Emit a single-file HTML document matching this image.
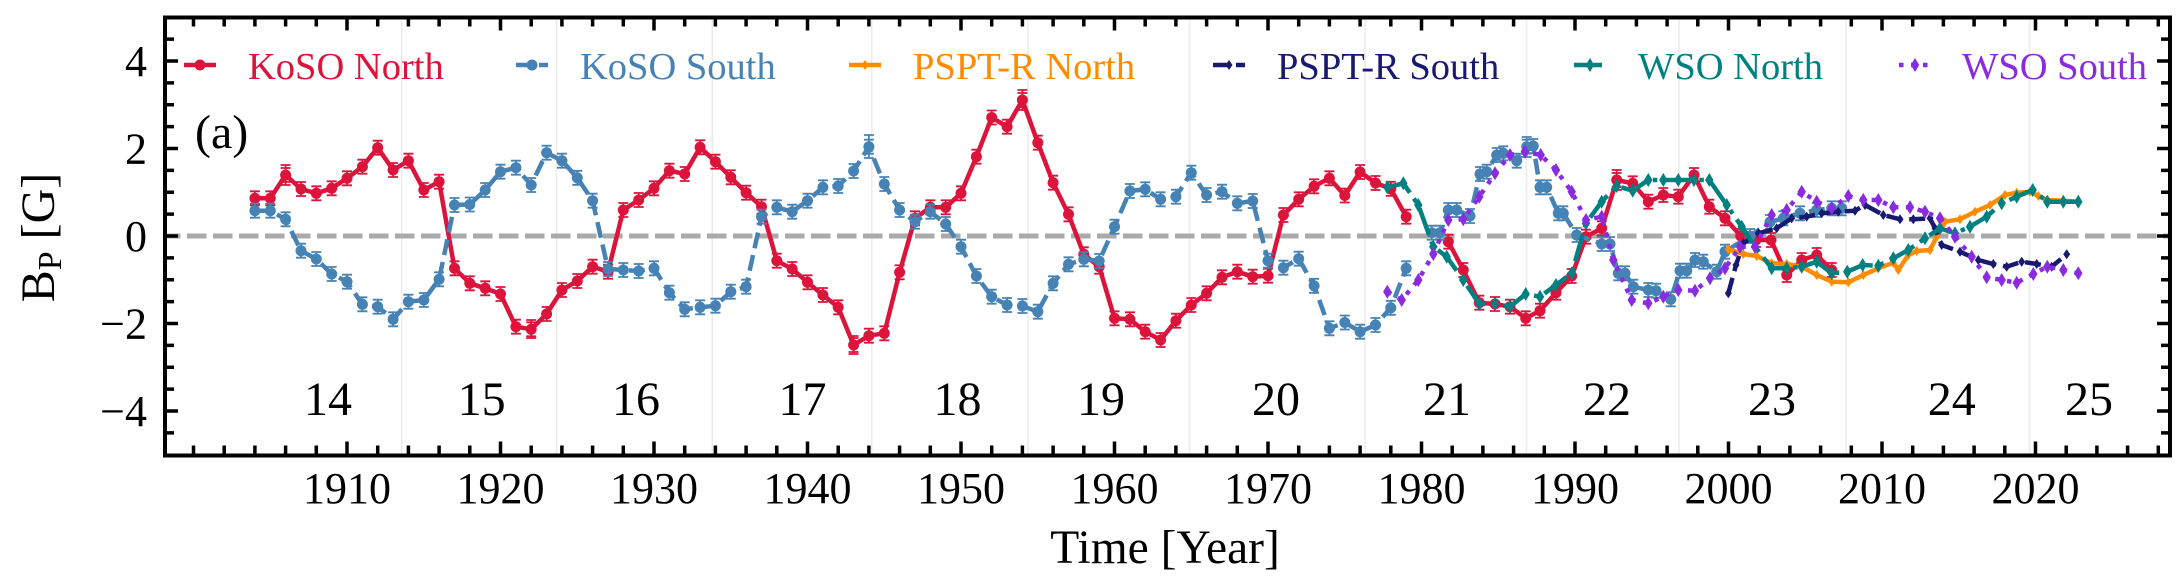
<!DOCTYPE html>
<html><head><meta charset="utf-8">
<style>
html,body{margin:0;padding:0;background:#fff;width:2182px;height:584px;overflow:hidden}
svg{display:block}
text{font-family:"Liberation Serif","DejaVu Serif",serif}
</style></head>
<body>
<svg width="2182" height="584" viewBox="0 0 2182 584" xmlns="http://www.w3.org/2000/svg">
<defs>
<marker id="mR" markerUnits="userSpaceOnUse" markerWidth="20" markerHeight="20" refX="0" refY="0" style="overflow:visible">
<path d="M0,-7V7M-5,-7H5M-5,7H5" stroke="#DC143C" stroke-width="1.8" fill="none"/>
<circle r="5.5" fill="#DC143C"/></marker>
<marker id="mB" markerUnits="userSpaceOnUse" markerWidth="20" markerHeight="20" refX="0" refY="0" style="overflow:visible">
<path d="M0,-7V7M-5,-7H5M-5,7H5" stroke="#4682B4" stroke-width="1.8" fill="none"/>
<circle r="5.5" fill="#4682B4"/></marker>
<marker id="mO" markerUnits="userSpaceOnUse" markerWidth="20" markerHeight="20" refX="0" refY="0" style="overflow:visible">
<path d="M0,-5L3.5,0L0,5L-3.5,0Z" fill="#FF8C00"/></marker>
<marker id="mN" markerUnits="userSpaceOnUse" markerWidth="20" markerHeight="20" refX="0" refY="0" style="overflow:visible">
<path d="M0,-5L3.5,0L0,5L-3.5,0Z" fill="#191970"/></marker>
<marker id="mT" markerUnits="userSpaceOnUse" markerWidth="20" markerHeight="20" refX="0" refY="0" style="overflow:visible">
<path d="M0,-7L4.2,0L0,7L-4.2,0Z" fill="#008080"/></marker>
<marker id="mP" markerUnits="userSpaceOnUse" markerWidth="20" markerHeight="20" refX="0" refY="0" style="overflow:visible">
<path d="M0,-7L4.2,0L0,7L-4.2,0Z" fill="#8A2BE2"/></marker>
</defs>

<rect x="0" y="0" width="2182" height="584" fill="#fff"/>

<!-- cycle boundary grid lines -->
<g stroke="#ebebeb" stroke-width="1.5">
<path d="M401.7 20V453M556.5 20V453M712.3 20V453M871.8 20V453M1028 20V453M1189.5 20V453M1365 20V453M1526.5 20V453M1679 20V453M1846 20V453M2029.5 20V453"/>
</g>

<!-- zero line -->
<line x1="167" y1="236" x2="2168" y2="236" stroke="#aaaaaa" stroke-width="5" stroke-dasharray="19.5 6.5" stroke-dashoffset="6"/>

<!-- cycle numbers -->
<g font-size="48" text-anchor="middle" fill="#000">
<text x="328" y="415">14</text>
<text x="481.6" y="415">15</text>
<text x="636" y="415">16</text>
<text x="802.5" y="415">17</text>
<text x="957.5" y="415">18</text>
<text x="1101" y="415">19</text>
<text x="1276" y="415">20</text>
<text x="1447" y="415">21</text>
<text x="1607" y="415">22</text>
<text x="1772" y="415">23</text>
<text x="1951.7" y="415">24</text>
<text x="2089" y="415">25</text>
</g>

<text x="195" y="148" font-size="48" fill="#000">(a)</text>

<!-- KoSO North -->
<g fill="none" stroke="#DC143C" stroke-width="4.5" stroke-linejoin="round">
<polyline marker-start="url(#mR)" marker-mid="url(#mR)" marker-end="url(#mR)" points="254.9,198.3 270.3,198.3 285.6,175 301,189 316.3,193.3 331.7,188.3 347,178.3 362.4,166.7 377.7,147.7 393.1,170 408.4,160.7 423.8,190 439.1,181.7 454.5,268.3 469.8,283.3 485.2,288.3 500.5,294 515.9,326.7 531.2,329.3 546.6,314 561.9,290 577.3,281 592.6,266.7 608,271.7 623.3,210 638.7,200 654,188.3 669.4,170.7 684.7,174 700.1,147.3 715.4,161.7 730.8,177.3 746.1,192.7 761.5,206.7 776.8,260.7 792.2,269 807.5,282.3 822.9,295 838.2,307.3 853.6,345 868.9,335.7 884.3,333.3 899.6,272.3 915,218.3 930.3,207.3 945.7,207.3 961,193.3 976.4,156.7 991.7,117.5 1007.1,126.7 1022.4,100 1037.8,142.7 1053.1,182.7 1068.5,214.3 1083.8,254.3 1099.2,266.7 1114.5,318.3 1129.9,319.3 1145.2,331.7 1160.6,340 1175.9,320.7 1191.3,305 1206.6,293.3 1222,277.3 1237.3,271.7 1252.7,276.7 1268,275.7 1283.4,215 1298.7,199.3 1314.1,186.3 1329.4,178.3 1344.8,195.5 1360.1,172 1375.5,183 1390.8,188.8 1406.2,216.7"/>
<polyline marker-start="url(#mR)" marker-mid="url(#mR)" marker-end="url(#mR)" points="1448.3,241.7 1463.3,270 1479.3,302.7 1495,304 1510,306.7 1525.7,318.3 1540,310.7 1556,292.7 1571.7,276 1586,236.7 1601.7,228.3 1616.7,180 1632.7,183.3 1648.3,201.7 1663.3,195 1678.3,196.7 1694,175 1709.3,206.7 1725,218.3 1740.7,236 1756,240 1771,240 1786.7,275 1801.7,260 1816.7,255 1831.7,270"/>
</g>
<path d="M285.6,165V185M280.6,165H290.6M280.6,185H290.6M1022.4,90V110M1017.4,90H1027.4M1017.4,110H1027.4M853.6,336V354M848.6,336H858.6M848.6,354H858.6M531.2,320V338M526.2,320H536.2M526.2,338H536.2M1616.7,170V190M1611.7,170H1621.7M1611.7,190H1621.7" stroke="#DC143C" stroke-width="1.8" fill="none"/>

<!-- KoSO South -->
<g fill="none" stroke="#4682B4" stroke-width="4.5" stroke-dasharray="16 7">
<polyline marker-start="url(#mB)" marker-mid="url(#mB)" marker-end="url(#mB)" points="254.9,210.7 270.3,210.7 285.6,219.3 301,250.7 316.3,259 331.7,274 347,281.7 362.4,304.3 377.7,306.7 393.1,319.3 408.4,301.7 423.8,300 439.1,279.3 454.5,205 469.8,204.5 485.2,190 500.5,171.7 515.9,167.7 531.2,185 546.6,152.7 561.9,160.7 577.3,177.8 592.6,200.7 608,269 623.3,270 638.7,271 654,268.3 669.4,292.7 684.7,309.3 700.1,307.3 715.4,305.7 730.8,291.7 746.1,286.7 761.5,216.7 776.8,207.3 792.2,211.7 807.5,200.7 822.9,187.3 838.2,186 853.6,171 868.9,146.7 884.3,184 899.6,210 915,221.7 930.3,211.7 945.7,224 961,246.7 976.4,276 991.7,296.7 1007.1,305 1022.4,306 1037.8,311.7 1053.1,283.3 1068.5,264.3 1083.8,259.3 1099.2,261 1114.5,226.7 1129.9,191 1145.2,189.3 1160.6,199.3 1175.9,196.7 1191.3,172.7 1206.6,195 1222,191.7 1237.3,203.3 1252.7,201 1268,260.7 1283.4,267.7 1298.7,258.7 1314.1,285.8 1329.4,328.3 1344.8,322.5 1360.1,331.7 1375.5,325 1390.8,307.8 1406.2,268.3"/>
<polyline marker-start="url(#mB)" marker-mid="url(#mB)" marker-end="url(#mB)" points="1431.7,232.7 1440,232.7 1448.3,210 1456.7,210 1470,216 1480,174 1486.7,171.7 1496.7,155 1503.3,153.3 1516.7,160.7 1526.7,146.7 1533.3,146 1540,187.3 1546.7,187.3 1558.3,213.3 1563.3,213.3 1576.7,235 1601.7,244 1610,244 1618.3,273.3 1625,273.3 1633.3,286.7 1648.3,290 1656,290.7 1670.7,299.3 1680,270.7 1686.7,270.7 1695,260 1703.3,261.7 1716.7,271.7 1725,251.7 1750,236 1770,222 1783.3,218.3 1800,213.3 1816.7,210 1831.7,208.3 1841.7,208.3"/>
</g>
<path d="M868.9,135V158M863.9,135H873.9M863.9,158H873.9M1526.7,137V157M1521.7,137H1531.7M1521.7,157H1531.7" stroke="#4682B4" stroke-width="1.8" fill="none"/>

<!-- PSPT-R North -->
<polyline fill="none" stroke="#FF8C00" stroke-width="4.5" stroke-linejoin="round" marker-start="url(#mO)" marker-mid="url(#mO)" marker-end="url(#mO)" points="1728.3,249.3 1743.3,254 1756.7,256 1771.7,263.3 1786.7,264 1801.7,266.7 1816.7,275 1831.7,281.7 1848.3,282.3 1863.3,275 1878.3,268.3 1893.3,262.7 1898.3,270 1908.3,255 1916.7,251 1930,250 1936.7,236.7 1945,221.7 1960,219.3 1975,211.7 1990,205 2005,195 2016.7,192.7 2030,191.7 2038.3,196 2047.3,200 2063.3,200.7 2078.3,201.7"/>

<!-- PSPT-R South -->
<polyline fill="none" stroke="#191970" stroke-width="4.5" stroke-dasharray="16 7" marker-start="url(#mN)" marker-mid="url(#mN)" marker-end="url(#mN)" points="1728.3,293.3 1736,265 1743.3,243.3 1758.3,233.3 1776.7,228.3 1791.7,218.3 1806.7,216.7 1821.7,213.3 1838.3,211.7 1855,210.7 1865,205 1883.3,215 1900,219.3 1913.3,219.3 1930,218.3 1935,228.3 1941.7,245 1960,251.7 1978.3,260 1993.3,264 2006.7,266.7 2021.7,261.7 2036.7,264 2051.7,266.7 2066.7,254.3"/>

<!-- WSO North -->
<polyline fill="none" stroke="#008080" stroke-width="4.5" stroke-dasharray="28 7 4.5 7" marker-start="url(#mT)" marker-mid="url(#mT)" marker-end="url(#mT)" points="1387.3,187.3 1403.3,183.3 1418.3,205 1433.3,246.7 1446.7,256.7 1463.3,280 1479.3,304 1495,304 1510,306.7 1525.7,294 1540,296.7 1556,285 1571.7,273.3 1586,223.3 1601.7,201.7 1616.7,186 1632.7,190.7 1648.3,180 1663.3,180 1678.3,180 1694,180 1709.3,180 1726.7,205 1741.7,226.7 1755,246.7 1771.7,268.3 1786.7,268.3 1801.7,266.7 1816.7,261.7 1831.7,273.3 1847.3,271.7 1862.7,265 1878.3,265.7 1893.3,258.3 1908.3,250 1925,238.3 1940,228.3 1955,233.3 1970,226.7 1986.7,216.7 2001.7,203.3 2016.7,196.7 2032.7,190 2047.3,201.7 2063.3,201.7 2078.3,201.7"/>

<!-- WSO South -->
<polyline fill="none" stroke="#8A2BE2" stroke-width="4.5" stroke-dasharray="4.5 7.5" marker-start="url(#mP)" marker-mid="url(#mP)" marker-end="url(#mP)" points="1387.3,291.7 1401.7,300 1418.3,280 1433.3,254 1448.3,220 1463.3,219.3 1479.3,196.7 1495,173.3 1510,155 1525,151.7 1540.7,155 1556,170 1571.7,191.7 1586,220 1601.7,216.7 1613.3,260 1631.7,300 1648.3,303.3 1663.3,296.7 1678.3,290 1695,290.7 1710,278.3 1725,268.3 1740,246.7 1755,246.7 1771.7,215 1786.7,210 1801.7,191.7 1816.7,201.7 1831.7,208.3 1848.3,196 1863.3,200 1878.3,200 1893.3,207.3 1910,207.3 1925,211.7 1940,218.3 1955,236.7 1971.7,256.7 1986.7,277.3 2001.7,280 2016.7,282.7 2033.3,274 2047.3,266.7 2063.3,270 2078.3,273.3"/>

<!-- Legend -->
<g>
<line x1="184" y1="65" x2="216" y2="65" stroke="#DC143C" stroke-width="4.5"/>
<circle cx="200" cy="65" r="5.5" fill="#DC143C"/>
<text x="248" y="79" font-size="38.5" fill="#DC143C">KoSO North</text>

<line x1="516" y1="65" x2="548" y2="65" stroke="#4682B4" stroke-width="4.5" stroke-dasharray="16 7"/>
<circle cx="532" cy="65" r="5.5" fill="#4682B4"/>
<text x="580" y="79" font-size="38.5" fill="#4682B4">KoSO South</text>

<line x1="849" y1="65" x2="881" y2="65" stroke="#FF8C00" stroke-width="4.5"/>
<path d="M865,60L868.5,65L865,70L861.5,65Z" fill="#FF8C00"/>
<text x="913" y="79" font-size="38.5" fill="#FF8C00">PSPT-R North</text>

<line x1="1213" y1="65" x2="1245" y2="65" stroke="#191970" stroke-width="4.5" stroke-dasharray="16 7"/>
<path d="M1229,60L1232.5,65L1229,70L1225.5,65Z" fill="#191970"/>
<text x="1277" y="79" font-size="38.5" fill="#191970">PSPT-R South</text>

<line x1="1574" y1="65" x2="1606" y2="65" stroke="#008080" stroke-width="4.5" stroke-dasharray="28 7 4.5 7"/>
<path d="M1590,58L1594.2,65L1590,72L1585.8,65Z" fill="#008080"/>
<text x="1638" y="79" font-size="38.5" fill="#008080">WSO North</text>

<line x1="1899" y1="65" x2="1931" y2="65" stroke="#8A2BE2" stroke-width="4.5" stroke-dasharray="4.5 7.5"/>
<path d="M1915,58L1919.2,65L1915,72L1910.8,65Z" fill="#8A2BE2"/>
<text x="1962" y="79" font-size="38.5" fill="#8A2BE2">WSO South</text>
</g>

<!-- Axes frame -->
<rect x="165" y="17.5" width="2005" height="438" fill="none" stroke="#000" stroke-width="4"/>

<!-- ticks -->
<g stroke="#000" stroke-width="3.5" fill="none">
<path d="M347 455.5v-14M500.5 455.5v-14M654 455.5v-14M807.5 455.5v-14M961 455.5v-14M1114.5 455.5v-14M1268 455.5v-14M1421.5 455.5v-14M1575 455.5v-14M1728.5 455.5v-14M1882 455.5v-14M2035.5 455.5v-14"/>
<path d="M347 17.5v13M500.5 17.5v13M654 17.5v13M807.5 17.5v13M961 17.5v13M1114.5 17.5v13M1268 17.5v13M1421.5 17.5v13M1575 17.5v13M1728.5 17.5v13M1882 17.5v13M2035.5 17.5v13"/>
<path d="M193.5 455.5v-10M224.2 455.5v-10M254.9 455.5v-10M285.6 455.5v-10M316.3 455.5v-10M377.7 455.5v-10M408.4 455.5v-10M439.1 455.5v-10M469.8 455.5v-10M531.2 455.5v-10M561.9 455.5v-10M592.6 455.5v-10M623.3 455.5v-10M684.7 455.5v-10M715.4 455.5v-10M746.1 455.5v-10M776.8 455.5v-10M838.2 455.5v-10M868.9 455.5v-10M899.6 455.5v-10M930.3 455.5v-10M991.7 455.5v-10M1022.4 455.5v-10M1053.1 455.5v-10M1083.8 455.5v-10M1145.2 455.5v-10M1175.9 455.5v-10M1206.6 455.5v-10M1237.3 455.5v-10M1298.7 455.5v-10M1329.4 455.5v-10M1360.1 455.5v-10M1390.8 455.5v-10M1452.2 455.5v-10M1482.9 455.5v-10M1513.6 455.5v-10M1544.3 455.5v-10M1605.7 455.5v-10M1636.4 455.5v-10M1667.1 455.5v-10M1697.8 455.5v-10M1759.2 455.5v-10M1789.9 455.5v-10M1820.6 455.5v-10M1851.3 455.5v-10M1912.7 455.5v-10M1943.4 455.5v-10M1974.1 455.5v-10M2004.8 455.5v-10M2066.2 455.5v-10M2096.9 455.5v-10M2127.6 455.5v-10M2158.3 455.5v-10"/>
<path d="M193.5 17.5v9M224.2 17.5v9M254.9 17.5v9M285.6 17.5v9M316.3 17.5v9M377.7 17.5v9M408.4 17.5v9M439.1 17.5v9M469.8 17.5v9M531.2 17.5v9M561.9 17.5v9M592.6 17.5v9M623.3 17.5v9M684.7 17.5v9M715.4 17.5v9M746.1 17.5v9M776.8 17.5v9M838.2 17.5v9M868.9 17.5v9M899.6 17.5v9M930.3 17.5v9M991.7 17.5v9M1022.4 17.5v9M1053.1 17.5v9M1083.8 17.5v9M1145.2 17.5v9M1175.9 17.5v9M1206.6 17.5v9M1237.3 17.5v9M1298.7 17.5v9M1329.4 17.5v9M1360.1 17.5v9M1390.8 17.5v9M1452.2 17.5v9M1482.9 17.5v9M1513.6 17.5v9M1544.3 17.5v9M1605.7 17.5v9M1636.4 17.5v9M1667.1 17.5v9M1697.8 17.5v9M1759.2 17.5v9M1789.9 17.5v9M1820.6 17.5v9M1851.3 17.5v9M1912.7 17.5v9M1943.4 17.5v9M1974.1 17.5v9M2004.8 17.5v9M2066.2 17.5v9M2096.9 17.5v9M2127.6 17.5v9M2158.3 17.5v9"/>
<path d="M165 61h13M165 148.5h13M165 236h13M165 323.5h13M165 411h13M2170 61h-13M2170 148.5h-13M2170 236h-13M2170 323.5h-13M2170 411h-13"/>
<path d="M165 39.1h9M165 82.9h9M165 104.8h9M165 126.6h9M165 170.4h9M165 192.3h9M165 214.1h9M165 257.9h9M165 279.8h9M165 301.6h9M165 345.4h9M165 367.3h9M165 389.1h9M165 432.9h9M2170 39.1h-9M2170 82.9h-9M2170 104.8h-9M2170 126.6h-9M2170 170.4h-9M2170 192.3h-9M2170 214.1h-9M2170 257.9h-9M2170 279.8h-9M2170 301.6h-9M2170 345.4h-9M2170 367.3h-9M2170 389.1h-9M2170 432.9h-9"/>
</g>

<!-- x tick labels -->
<g font-size="44" text-anchor="middle" fill="#000">
<text x="347" y="503">1910</text>
<text x="500.5" y="503">1920</text>
<text x="654" y="503">1930</text>
<text x="807.5" y="503">1940</text>
<text x="961" y="503">1950</text>
<text x="1114.5" y="503">1960</text>
<text x="1268" y="503">1970</text>
<text x="1421.5" y="503">1980</text>
<text x="1575" y="503">1990</text>
<text x="1728.5" y="503">2000</text>
<text x="1882" y="503">2010</text>
<text x="2035.5" y="503">2020</text>
</g>

<!-- y tick labels -->
<g font-size="44" text-anchor="end" fill="#000">
<text x="147" y="76">4</text>
<text x="147" y="163.5">2</text>
<text x="147" y="251">0</text>
<text x="147" y="338.5">−2</text>
<text x="147" y="426">−4</text>
</g>

<!-- axis labels -->
<text x="1165" y="563" font-size="47.5" text-anchor="middle" fill="#000">Time [Year]</text>
<text transform="translate(54,237.5) rotate(-90)" font-size="48" text-anchor="middle" fill="#000">B<tspan font-size="34" dy="7">P</tspan><tspan dy="-7"> [G]</tspan></text>
</svg>
</body></html>
